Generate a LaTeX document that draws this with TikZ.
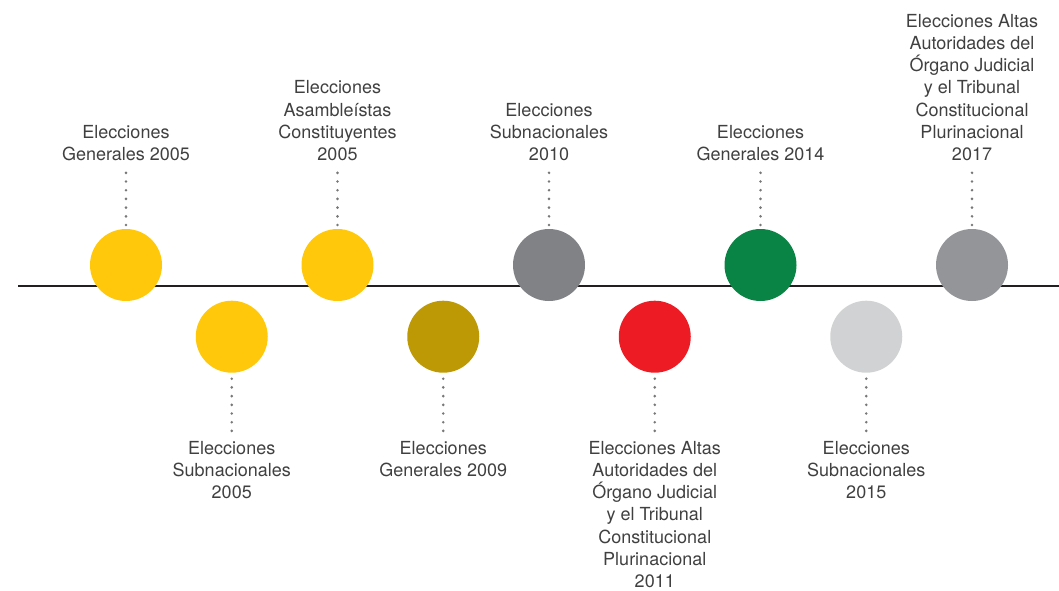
\documentclass[tikz,border=0pt]{standalone}
\usepackage{fontspec}
\setmainfont{TeX Gyre Heros}
\definecolor{amarillo}{RGB}{255,200,11}
\definecolor{ocre}{RGB}{189,154,5}
\definecolor{grisosc}{RGB}{128,130,133}
\definecolor{rojo}{RGB}{237,28,36}
\definecolor{verde}{RGB}{10,132,69}
\definecolor{grisclaro}{RGB}{209,210,211}
\definecolor{grismed}{RGB}{147,149,152}
\definecolor{texto}{RGB}{64,64,64}
\definecolor{punto}{RGB}{120,120,120}
\definecolor{eje}{RGB}{35,31,32}
\begin{document}
\begin{tikzpicture}[x=1pt,y=-1pt,
  hito/.style={circle,minimum size=72pt,inner sep=0pt,outer sep=0pt},
  rotulo/.style={align=center,inner sep=0pt,text=texto,font=\fontsize{18}{22.2}\selectfont},
  puntos/.style={draw=punto,line width=2.9pt,line cap=round,dash pattern=on 0pt off 8.7pt}]
\useasboundingbox (0,0) rectangle (1059,590);
\draw[line width=2.4pt,color=eje] (18,286) -- (1059,286); % linea de tiempo
\foreach \n/\x/\col/\txt in {a/126/amarillo/{Elecciones\\Generales 2005},
  c/337.5/amarillo/{Elecciones\\Asamble\'istas\\Constituyentes\\2005},
  e/549/grisosc/{Elecciones\\Subnacionales\\2010},
  g/760.5/verde/{Elecciones\\Generales 2014},
  i/972/grismed/{Elecciones Altas\\Autoridades del\\Órgano Judicial\\y el Tribunal\\Constitucional\\Plurinacional\\2017}}{ % arriba
\node[hito,fill=\col] (c\n) at (\x,265) {};
\node[rotulo,anchor=south] (l\n) at (\x,161) {\txt};
\draw[puntos,shorten <=4pt,shorten >=10pt] (c\n) -- (l\n);}
\foreach \n/\x/\col/\txt in {b/231.75/amarillo/{Elecciones\\Subnacionales\\2005},
  d/443.25/ocre/{Elecciones\\Generales 2009},
  f/654.75/rojo/{Elecciones Altas\\Autoridades del\\Órgano Judicial\\y el Tribunal\\Constitucional\\Plurinacional\\2011},
  h/866.25/grisclaro/{Elecciones\\Subnacionales\\2015}}{ % abajo
\node[hito,fill=\col] (c\n) at (\x,336.7) {};
\node[rotulo,anchor=north] (l\n) at (\x,441) {\txt};
\draw[puntos,shorten <=6pt,shorten >=10pt] (c\n) -- (l\n);}
\end{tikzpicture}
\end{document}
